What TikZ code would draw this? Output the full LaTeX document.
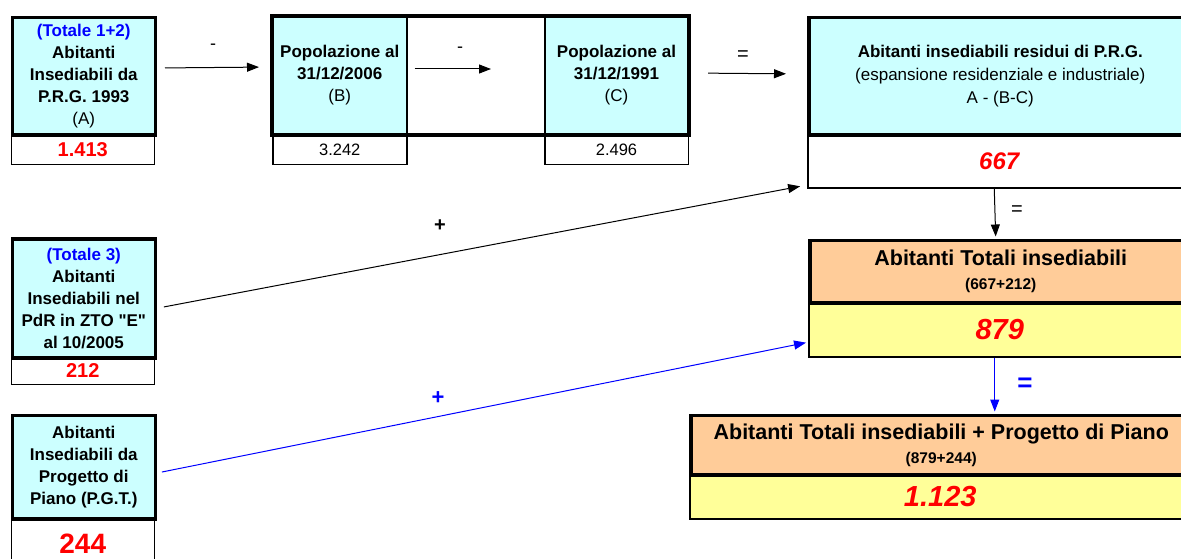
\documentclass[tikz,border=0pt]{standalone}
\usepackage{fontspec}
\setmainfont{Liberation Sans}[Ligatures=TeXOff]
\usetikzlibrary{arrows.meta}
\definecolor{celeste}{HTML}{CCFFFF}
\definecolor{arancio}{HTML}{FFCC99}
\definecolor{giallo}{HTML}{FFFF99}
\definecolor{rosso}{HTML}{FF0000}
\definecolor{blu}{HTML}{0000FF}
\newcommand{\fs}[2]{\fontsize{#1}{#2}\selectfont}
\tikzset{
  testa/.style={draw, line width=3.5pt, fill=celeste, align=center, inner sep=0pt, anchor=north west, font=\bfseries\fs{17}{22}},
  valore/.style={draw, line width=1.5pt, fill=white, align=center, inner sep=0pt, anchor=north west},
  freccia/.style={-{Triangle[length=12pt,width=9pt]}, line width=1pt},
  segno/.style={font=\fs{18}{20}},
}
\begin{document}
\begin{tikzpicture}[x=1pt, y=-1pt]
%			\draw[help lines] (0,0) grid (1181,559);
			\clip (0,0) rectangle (1181,559);
			% prima riga
			\node[valore, minimum width=143pt, minimum height=30.5pt, font=\bfseries\fs{20}{22}, text=rosso] (valA) at (10.5,133.5) {1.413};
			\node[testa, minimum width=143pt, minimum height=117.5pt] (A) at (10.5,16) {{\color{blu}(Totale 1+2)}\\ Abitanti\\ Insediabili da\\ P.R.G. 1993\\ {\mdseries (A)}};
			\node[valore, minimum width=134pt, minimum height=30.5pt, font=\fs{16.5}{20}] (valB) at (272,133.5) {3.242};
			\node[valore, minimum width=143.5pt, minimum height=30.5pt, font=\fs{16.5}{20}] (valC) at (544,133.5) {2.496};
			\node[testa, line width=1.5pt, minimum width=134pt, minimum height=117.5pt] (B) at (272,16) {Popolazione al\\ 31/12/2006\\ {\mdseries (B)}};
			\node[valore, minimum width=138pt, minimum height=117.5pt] (mezzo) at (406,16) {};
			\node[testa, line width=1.5pt, minimum width=143.5pt, minimum height=117.5pt] (C) at (544,16) {Popolazione al\\ 31/12/1991\\ {\mdseries (C)}};
			\draw[line width=3.5pt] (B.north west) rectangle (C.south east);
			\node[valore, minimum width=383pt, minimum height=53.5pt, font=\bfseries\itshape\fs{24}{26}, text=rosso] (valRes) at (807,133.5) {667};
			\node[testa, minimum width=383pt, minimum height=117.5pt, font=\fs{17}{23}] (res) at (807,16) {\textbf{Abitanti insediabili residui di P.R.G.}\\ (espansione residenziale e industriale)\\ A - (B-C)};
			% totali
			\node[valore, fill=giallo, minimum width=382pt, minimum height=55pt, font=\bfseries\itshape\fs{29}{30}, text=rosso] (valTot) at (808,301) {879};
			\node[testa, fill=arancio, minimum width=382pt, minimum height=62.5pt, font=\bfseries\fs{21.5}{23.5}] (tot) at (808,238.5) {Abitanti Totali insediabili\\ {\fs{15.5}{23.5}(667+212)}};
			\node[valore, fill=giallo, minimum width=501pt, minimum height=45pt, font=\bfseries\itshape\fs{29}{30}, text=rosso] (valFin) at (689,473) {1.123};
			\node[testa, fill=arancio, minimum width=501pt, minimum height=59.5pt, font=\bfseries\fs{21.5}{24}] (fin) at (689,413.5) {Abitanti Totali insediabili + Progetto di Piano\\ {\fs{15.5}{24}(879+244)}};
			% colonna sinistra
			\node[valore, minimum width=143pt, minimum height=27.5pt, font=\bfseries\fs{20}{22}, text=rosso] (valZto) at (10.5,356) {212};
			\node[testa, minimum width=143pt, minimum height=119pt] (zto) at (10.5,237) {{\color{blu}(Totale 3)}\\ Abitanti\\ Insediabili nel\\ PdR in ZTO "E"\\ al 10/2005};
			\node[valore, minimum width=143pt, minimum height=52pt, font=\bfseries\fs{28}{30}, text=rosso] (valPgt) at (10.5,517) {244};
			\node[testa, minimum width=143pt, minimum height=103.5pt] (pgt) at (10.5,413.5) {Abitanti\\ Insediabili da\\ Progetto di\\ Piano (P.G.T.)};
			% frecce
			\draw[freccia, shorten <=8pt, shorten >=13pt] ([yshift=8.5pt]A.east) -- ([yshift=8.5pt]B.west);
			\draw[freccia, shorten <=7pt, shorten >=53pt] ([yshift=6.5pt]B.east) -- ([yshift=6.5pt]C.west);
			\draw[freccia, shorten <=19pt, shorten >=21pt] ([yshift=2.5pt]C.east) -- ([yshift=2.5pt]res.west);
			\draw[freccia, shorten >=2pt] ([xshift=-5pt]valRes.south) -- ([xshift=-5pt]tot.north);
			\draw[freccia, blu, shorten >=2pt] ([xshift=-5pt]valTot.south) -- ([xshift=-5pt]valTot.south |- fin.north);
			\draw[freccia, shorten <=7pt, shorten >=7pt] ([yshift=-10pt]zto.east) -- ([yshift=3.5pt]valRes.south west);
			\draw[freccia, blu, shorten <=5pt, shorten >=2pt] ([yshift=-6pt]pgt.east) -- ([yshift=-13pt]valTot.west);
			% segni
			\node[segno] (meno1) at (213,47) {-};
			\node[segno] (meno2) at (460,50) {-};
			\node[segno, font=\fs{20}{20}] (uguale1) at (743,56) {=};
			\node[segno, font=\fs{20}{20}] (uguale2) at (1017,211) {=};
			\node[segno, font=\bfseries\fs{20}{20}] (piu1) at (440,226) {+};
			\node[segno, font=\bfseries\fs{22}{22}, text=blu] (piu2) at (438,398) {+};
			\node[segno, font=\bfseries\fs{26}{26}, text=blu] (uguale3) at (1025,385) {=};
\end{tikzpicture}
\end{document}
